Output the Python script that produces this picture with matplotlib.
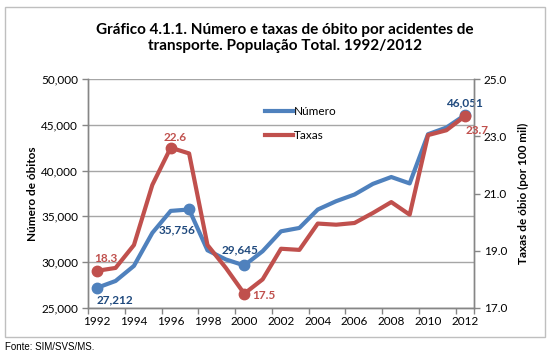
import matplotlib
matplotlib.use("Agg")
import matplotlib.pyplot as plt
from matplotlib.patches import Rectangle
from matplotlib.ticker import FuncFormatter, FixedLocator
from matplotlib.lines import Line2D

years = list(range(1992, 2013))
numero = [27212, 27950, 29600, 33200, 35600, 35756, 31300, 30300, 29645, 31200,
          33370, 33740, 35750, 36660, 37390, 38550, 39300, 38600, 43970, 44700, 46051]
taxas = [18.3, 18.4, 19.2, 21.3, 22.6, 22.4, 19.2, 18.4, 17.5, 18.0,
         19.07, 19.03, 19.95, 19.91, 19.97, 20.32, 20.7, 20.26, 23.04, 23.21, 23.7]

title = "Gráfico 4.1.1. Número e taxas de óbito por acidentes de\ntransporte. População Total. 1992/2012"
ylabel_left = "Número de óbitos"
ylabel_right = "Taxas de óbio (por 100 mil)"
source = "Fonte: SIM/SVS/MS."

BLUE = "#4F81BD"
RED = "#C0504D"
BLUE_LBL = "#1F497D"
RED_LBL = "#C0504D"
GRID = "#A6A6A6"
SPINE = "#868686"
FONT = "Lato"

W, H = 550, 358
fig = plt.figure(figsize=(W / 100, H / 100), dpi=100)
fig.patch.set_facecolor("white")

# outer border
fig.patches.append(Rectangle((5 / W, 1 - 337 / H), 540 / W, 330 / H, transform=fig.transFigure,
                             fill=False, edgecolor="#BFBFBF", linewidth=1.0))

ax = fig.add_axes([88 / W, 1 - 308 / H, (474 - 88) / W, (308 - 79) / H])
ax2 = ax.twinx()

x = list(range(len(years)))
ax.plot(x, numero, color=BLUE, linewidth=3.0, solid_joinstyle="round", zorder=3)
ax2.plot(x, taxas, color=RED, linewidth=3.0, solid_joinstyle="round", zorder=3)

ax.set_xlim(-0.5, len(years) - 0.5)
ax.set_ylim(25000, 50000)
ax2.set_ylim(17.0, 25.0)

ax.set_yticks([25000, 30000, 35000, 40000, 45000, 50000])
ax.yaxis.set_major_formatter(FuncFormatter(lambda v, p: f"{int(v):,}"))
ax2.set_yticks([17, 19, 21, 23, 25])
ax2.yaxis.set_major_formatter(FuncFormatter(lambda v, p: f"{v:.1f}"))

ax.set_xticks(x[::2])
ax.set_xticklabels([str(y) for y in years[::2]])
ax.xaxis.set_minor_locator(FixedLocator([-0.5 + 2 * k for k in range(11)] + [len(years) - 0.5]))
ax.tick_params(axis="x", which="major", length=0, pad=6)
ax.tick_params(axis="x", which="minor", length=4, color=SPINE, width=1)

ax.grid(axis="y", color=GRID, linewidth=1.0)
ax.set_axisbelow(True)

for a in (ax, ax2):
    for s in a.spines.values():
        s.set_color(SPINE)
        s.set_linewidth(1.0)
    a.spines["top"].set_visible(False)
ax.tick_params(axis="y", length=4, color=SPINE, width=1, labelsize=8.5, pad=3)
ax2.tick_params(axis="y", length=4, color=SPINE, width=1, labelsize=8.5, pad=3)
ax.tick_params(axis="x", labelsize=8.5)
for lbl in ax.get_xticklabels() + ax.get_yticklabels() + ax2.get_yticklabels():
    lbl.set_fontfamily(FONT)

ax.set_ylabel(ylabel_left, fontsize=8.5, fontweight="bold", fontfamily=FONT, labelpad=2)
ax2.set_ylabel(ylabel_right, fontsize=8.5, fontweight="bold", fontfamily=FONT, labelpad=8)

# markers and data labels
blue_lbls = {0: (13, -9), 5: (-9, -15), 8: (-3, 11), 20: (0, 9)}
red_lbls = {0: (6, 9), 4: (3, 7), 8: (14, -1), 20: (9, -10)}
for i, (dx, dy) in blue_lbls.items():
    ax.plot(x[i], numero[i], "o", color=BLUE, markersize=7.5, zorder=4)
    ax.annotate(f"{numero[i]:,}", (x[i], numero[i]), xytext=(dx, dy), textcoords="offset points",
                ha="center", va="center", color=BLUE_LBL, fontsize=8.5, fontweight="bold",
                fontfamily=FONT, zorder=6)
for i, (dx, dy) in red_lbls.items():
    ax2.plot(x[i], taxas[i], "o", color=RED, markersize=7.5, zorder=4)
    ax2.annotate(f"{taxas[i]:.1f}", (x[i], taxas[i]), xytext=(dx, dy), textcoords="offset points",
                 ha="center", va="center", color=RED_LBL, fontsize=8.5, fontweight="bold",
                 fontfamily=FONT, zorder=6, clip_on=False)

handles = [Line2D([], [], color=BLUE, linewidth=3.0), Line2D([], [], color=RED, linewidth=3.0)]
leg = ax2.legend(handles, ["Número", "Taxas"], loc="upper left", bbox_to_anchor=(0.43, 0.93),
                 frameon=False, handlelength=2.4, handletextpad=0.1, labelspacing=1.1,
                 prop={"family": FONT, "size": 8.5})

fig.text(285 / W, 1 - 38 / H, title, ha="center", va="center", fontsize=11,
         fontweight="bold", fontfamily=FONT, linespacing=1.25)
fig.text(5 / W, 1 - 347 / H, source, ha="left", va="center", fontsize=7,
         fontfamily="Liberation Sans")

fig.savefig("out.png", dpi=100)
